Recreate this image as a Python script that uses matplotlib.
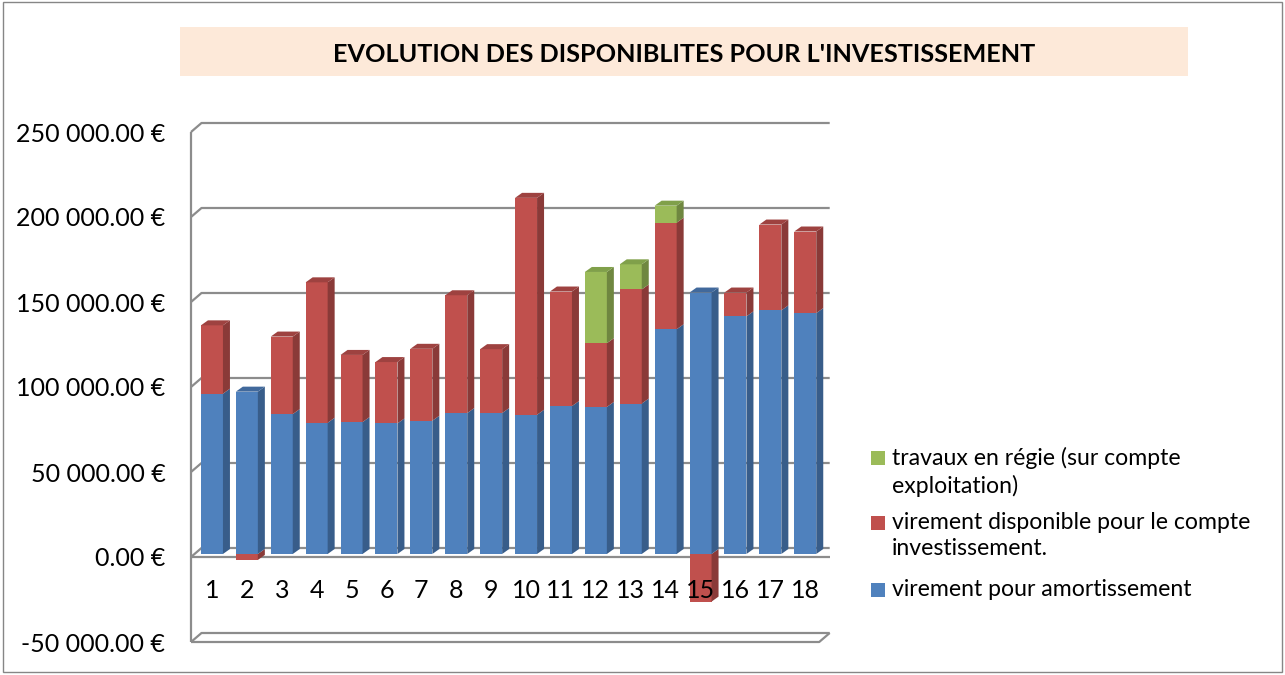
import matplotlib
matplotlib.use("Agg")
import matplotlib.pyplot as plt
from matplotlib.patches import Polygon, Rectangle

plt.rcParams['font.family'] = ['Lato', 'DejaVu Sans']

# --- data ---
categories = list(range(1, 19))
amortissement = [94300, 95500, 82300, 77200, 77600, 76800, 78400, 82900, 82900,
                 81900, 87000, 86500, 88500, 132200, 153800, 139800, 143300, 141700]
virement_dispo = [40200, -3500, 45600, 82600, 39500, 36100, 42300, 69300, 37600,
                  127600, 67400, 37500, 67100, 62700, -28000, 14000, 50500, 48000]
travaux_regie = [0, 0, 0, 0, 0, 0, 0, 0, 0, 0, 0, 41900, 14800, 10000, 0, 0, 0, 0]
y_ticks = [-50000, 0, 50000, 100000, 150000, 200000, 250000]
legend_labels = ["travaux en régie (sur compte\nexploitation)",
                 "virement disponible pour le compte\ninvestissement.",
                 "virement pour amortissement"]
title = "EVOLUTION DES DISPONIBLITES POUR L'INVESTISSEMENT"

# colours: (front, side, top)
BLUE = ("#4F81BD", "#385D8A", "#41699C")
RED = ("#C0504D", "#8A3A38", "#9E4240")
GREEN = ("#9BBB59", "#6F8740", "#80A04A")
GRID = "#8C8C8C"

W, H = 1285, 675
CAT_PX = 34.9             # pixels per category
VAL_PX = 85 / 50000       # pixels per euro
BAR_W = 22 / CAT_PX


def dx(px):
    return px / CAT_PX


def dy(px):
    return px / VAL_PX


fig = plt.figure(figsize=(W / 100, H / 100), dpi=100)
ax = fig.add_axes([191 / W, 1 - 642 / H, 18 * CAT_PX / W, 510 / H])
ax.set_xlim(0.5, 18.5)
ax.set_ylim(-50000, 250000)
for s in ax.spines.values():
    s.set_visible(False)
ax.set_xticks([])
ax.set_yticks(y_ticks)
ax.set_yticklabels([f"{v:,.2f} €".replace(",", " ") for v in y_ticks], fontsize=18)
ax.tick_params(axis="y", length=0, pad=18.5)
ax.patch.set_visible(False)

# --- walls / gridlines ---
WX, WY = dx(10.5), dy(9)
line_kw = dict(color=GRID, lw=1.6, clip_on=False, zorder=1, solid_capstyle="butt")
for v in y_ticks:
    ax.plot([0.5, 0.5 + WX, 18.5 + WX], [v, v + WY, v + WY], **line_kw)
# floor plate at axis minimum
ax.plot([0.5, 18.5, 18.5 + WX], [-50000, -50000, -50000 + WY], **line_kw)
# front edge of left wall
ax.plot([0.5, 0.5], [-50000, 250000], **line_kw)
# category axis line at zero
ax.plot([0.5, 18.5 + WX], [0, 0], **line_kw)

# --- 3D stacked bars ---
FX, FY = dx(3.5), dy(3)      # bar front plane offset
DX, DY = dx(7), dy(5)        # bar depth


def block(x, bottom, top, cols, cap):
    xl = x - BAR_W / 2 + FX
    xr = x + BAR_W / 2 + FX
    b, t = bottom + FY, top + FY
    ax.bar(x + FX, top - bottom, bottom=b, width=BAR_W, color=cols[0],
           edgecolor="none", zorder=3, clip_on=False)
    ax.add_patch(Polygon([(xr, b), (xr + DX, b + DY), (xr + DX, t + DY), (xr, t)],
                         closed=True, fc=cols[1], ec="none", zorder=3, clip_on=False))
    if cap:
        ax.add_patch(Polygon([(xl, t), (xl + DX, t + DY), (xr + DX, t + DY), (xr, t)],
                             closed=True, fc=cols[2], ec="none", zorder=3, clip_on=False))


for x, a, r, g in zip(categories, amortissement, virement_dispo, travaux_regie):
    if r < 0:
        block(x, r, 0, RED, False)
    block(x, 0, a, BLUE, r <= 0 and g == 0)
    top = a
    if r > 0:
        block(x, top, top + r, RED, g == 0)
        top += r
    if g > 0:
        block(x, top, top + g, GREEN, True)

# category labels
for x in categories:
    ax.text(x + FX, -19500, str(x), ha="center", va="center", fontsize=18, zorder=5)

# --- title box ---
fig.patches.append(Rectangle((180 / W, 1 - 76 / H), 1008 / W, 49 / H,
                             transform=fig.transFigure, fc="#FDE9D9", ec="none"))
fig.text(684 / W, 1 - 54 / H, title, ha="center", va="center",
         fontsize=18.2, fontweight="bold")

# --- legend (drawn by hand to follow Excel's wrapping) ---
leg_y = [458, 523, 590]
for (lab, cols, yc) in zip(legend_labels, [GREEN, RED, BLUE], leg_y):
    fig.patches.append(Rectangle((871 / W, 1 - (yc + 7) / H), 14 / W, 14 / H,
                                 transform=fig.transFigure, fc=cols[0], ec="none"))
    fig.text(892 / W, 1 - (yc - 11) / H, lab, ha="left", va="top",
             fontsize=16.6, linespacing=1.32)

# chart border
fig.patches.append(Rectangle((3 / W, 3 / H), 1279 / W, 670 / H,
                             transform=fig.transFigure, fc="none", ec="#868686", lw=1))

fig.savefig("out.png", dpi=100)
